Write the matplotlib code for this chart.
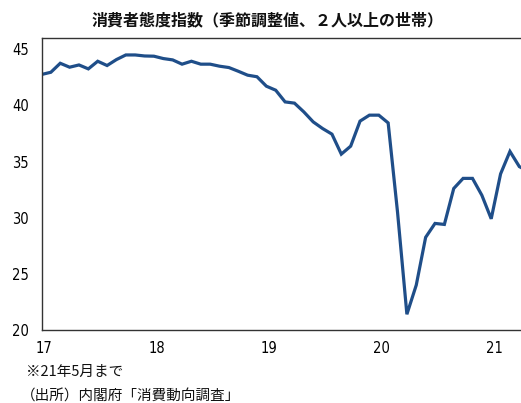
import matplotlib
matplotlib.use("Agg")
import matplotlib.pyplot as plt
from matplotlib import font_manager

# Monthly index, Jan 2017 - May 2021
values = [
    42.75, 42.95, 43.75, 43.40, 43.60, 43.25, 43.93, 43.55, 44.08, 44.49, 44.49, 44.40,  # 2017
    44.38, 44.17, 44.05, 43.67, 43.93, 43.67, 43.67, 43.49, 43.37, 43.04, 42.69, 42.55,  # 2018
    41.71, 41.35, 40.31, 40.20, 39.42, 38.53, 37.94, 37.44, 35.66, 36.37, 38.60, 39.13,  # 2019
    39.13, 38.44, 30.50, 21.40, 24.00, 28.25, 29.49, 29.40, 32.60, 33.50, 33.50, 32.00,  # 2020
    29.90, 33.90, 35.90, 34.55, 34.10,                                                   # 2021
]
year_labels = ["17", "18", "19", "20", "21"]
yticks = [20, 25, 30, 35, 40, 45]
title = "消費者態度指数（季節調整値、２人以上の世帯）"
note1 = "※21年5月まで"
note2 = "（出所）内閣府「消費動向調査」"

names = {f.name for f in font_manager.fontManager.ttflist}
condensed = any(f.name == "DejaVu Sans" and f.stretch in ("condensed", "semi-condensed")
                for f in font_manager.fontManager.ttflist)
num_font = ["Liberation Sans Narrow", "Liberation Sans", "DejaVu Sans"]
num_font = [f for f in num_font if f in names] or ["DejaVu Sans"]
num_kw = dict(family=num_font, fontsize=10.5)
if "Liberation Sans Narrow" not in names and condensed:
    num_kw = dict(family=["DejaVu Sans"], stretch="condensed", fontsize=10.5)
cjk = ["Noto Sans CJK JP", "DejaVu Sans"]

W, H = 521, 403
fig = plt.figure(figsize=(W / 100, H / 100), dpi=100)
left, right_px, top_px, bot_px = 41.5, 531.5, 38, 330
ax = fig.add_axes([left / W, 1 - bot_px / H, (right_px - left) / W, (bot_px - top_px) / H])

x = list(range(len(values)))
ax.plot(x, values, color="#1f4e89", lw=2.3, solid_joinstyle="miter", clip_on=True)
ax.set_xlim(0, 52.3)
ax.set_ylim(20, 46)

ax.set_yticks(yticks)
ax.set_yticklabels([str(v) for v in yticks], **num_kw)
ax.set_xticks([12 * i + 0.3 for i in range(len(year_labels))])
ax.set_xticklabels(year_labels, **num_kw)
ax.tick_params(axis="both", length=0)
ax.tick_params(axis="y", pad=9)
ax.tick_params(axis="x", pad=8)

for side in ["left", "bottom", "top"]:
    ax.spines[side].set_color("#333333")
    ax.spines[side].set_linewidth(1.0)
ax.spines["right"].set_visible(False)

fig.text(268 / W, 1 - 20 / H, title, family=cjk, fontsize=11.5, fontweight="bold",
         ha="center", va="center", color="#111111")
fig.text(26 / W, 1 - 372 / H, note1, family=cjk, fontsize=10.5, ha="left", va="center", color="#111111")
fig.text(21 / W, 1 - 397 / H, note2, family=cjk, fontsize=10.5, ha="left", va="center", color="#111111")

fig.savefig("out.png", dpi=100)
